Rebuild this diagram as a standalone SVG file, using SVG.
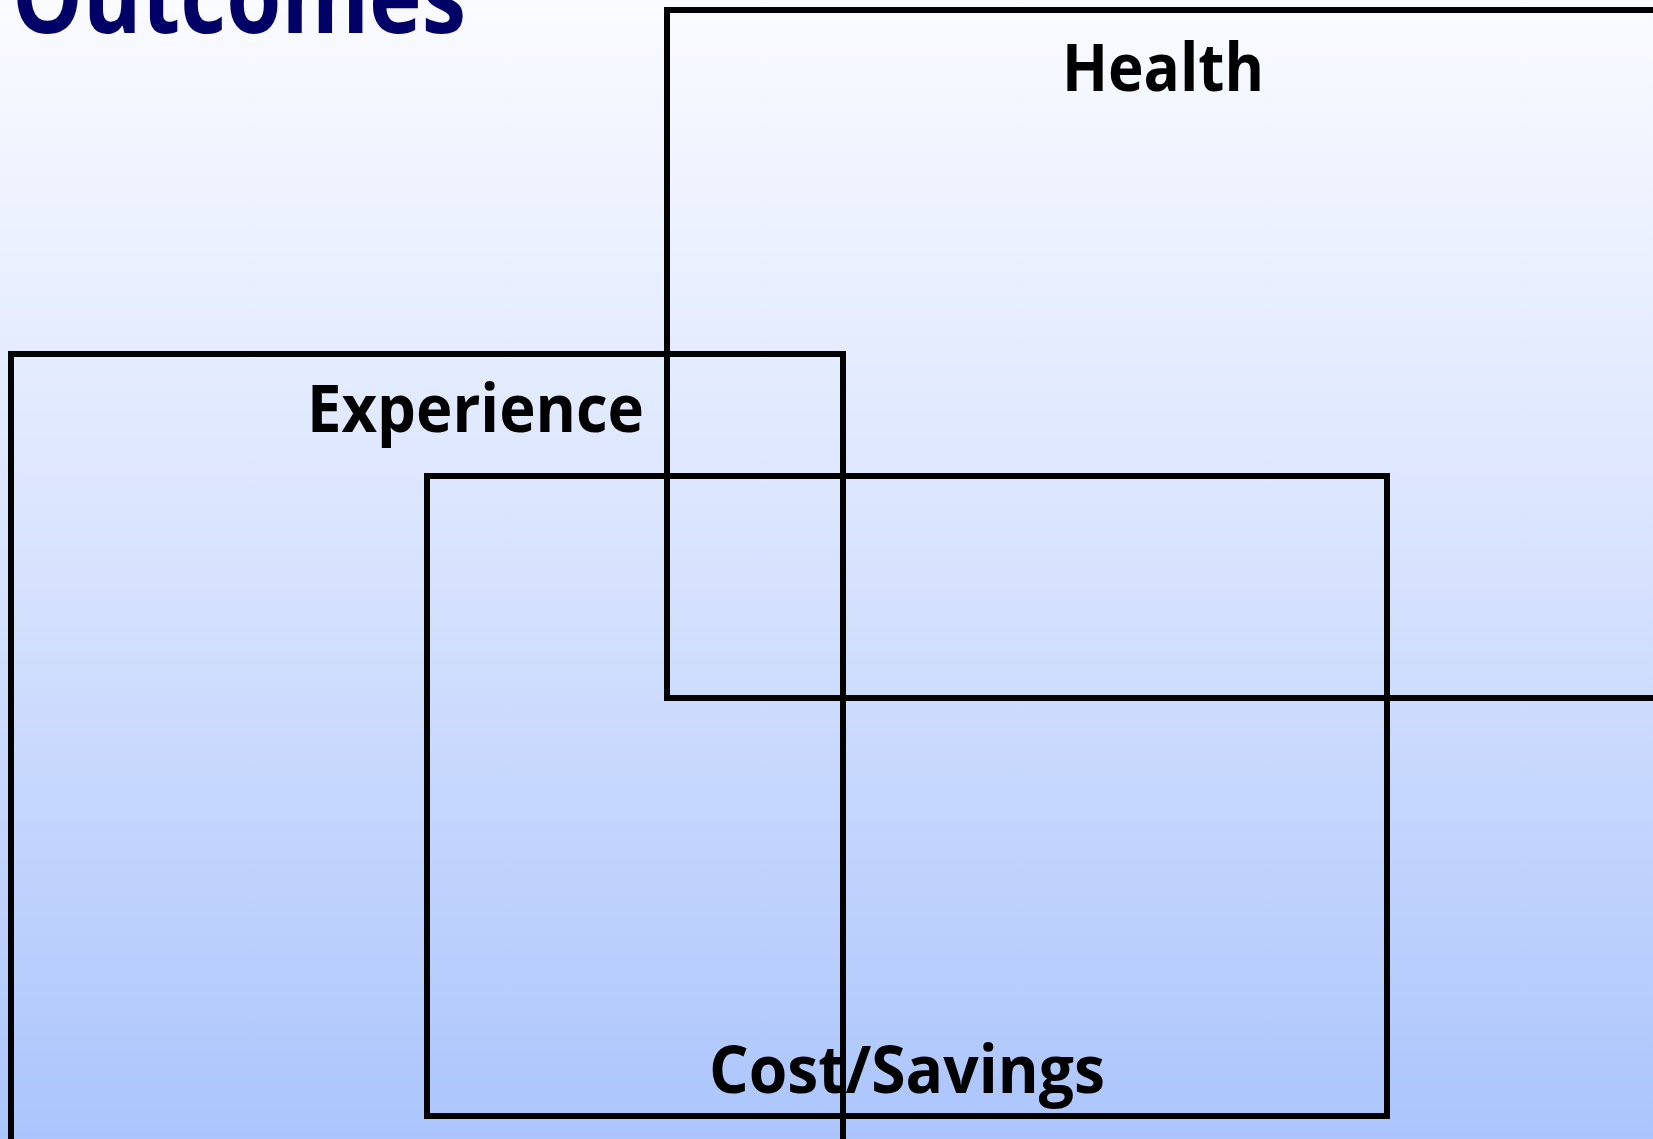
<svg xmlns="http://www.w3.org/2000/svg" width="1653" height="1139" viewBox="0 0 1653 1139">
  <defs>
    <linearGradient id="bg" x1="0" y1="0" x2="0" y2="1">
      <stop offset="0" stop-color="#fafbff"/>
      <stop offset="0.45" stop-color="#dbe5fe"/>
      <stop offset="1" stop-color="#abc5fc"/>
    </linearGradient>
  </defs>
  <style>
    .box { fill: none; stroke: #000; stroke-width: 6; }
    .lbl { font-family: "Open Sans", "Noto Sans", sans-serif; font-weight: 700; font-size: 67px; fill: #000; }
    .title { font-family: "Open Sans", "Noto Sans", sans-serif; font-weight: 700; font-size: 104px; fill: #000066; }
  </style>
  <rect x="0" y="0" width="1653" height="1139" fill="url(#bg)"/>
  <!-- page heading, partly above the top edge -->
  <text class="title" x="12" y="33" textLength="454" lengthAdjust="spacingAndGlyphs">Outcomes</text>
  <g id="health">
    <rect class="box" x="667" y="10" width="1100" height="688"/>
    <text class="lbl" x="1062" y="91" textLength="202" lengthAdjust="spacingAndGlyphs">Health</text>
  </g>
  <g id="experience">
    <rect class="box" x="11" y="354" width="832" height="900"/>
    <text class="lbl" x="307" y="432" textLength="337" lengthAdjust="spacingAndGlyphs">Experience</text>
  </g>
  <g id="cost">
    <rect class="box" x="427" y="476" width="960" height="640"/>
    <text class="lbl" x="709" y="1093" textLength="396" lengthAdjust="spacingAndGlyphs">Cost/Savings</text>
  </g>
  <g id="connectors"/>
</svg>
